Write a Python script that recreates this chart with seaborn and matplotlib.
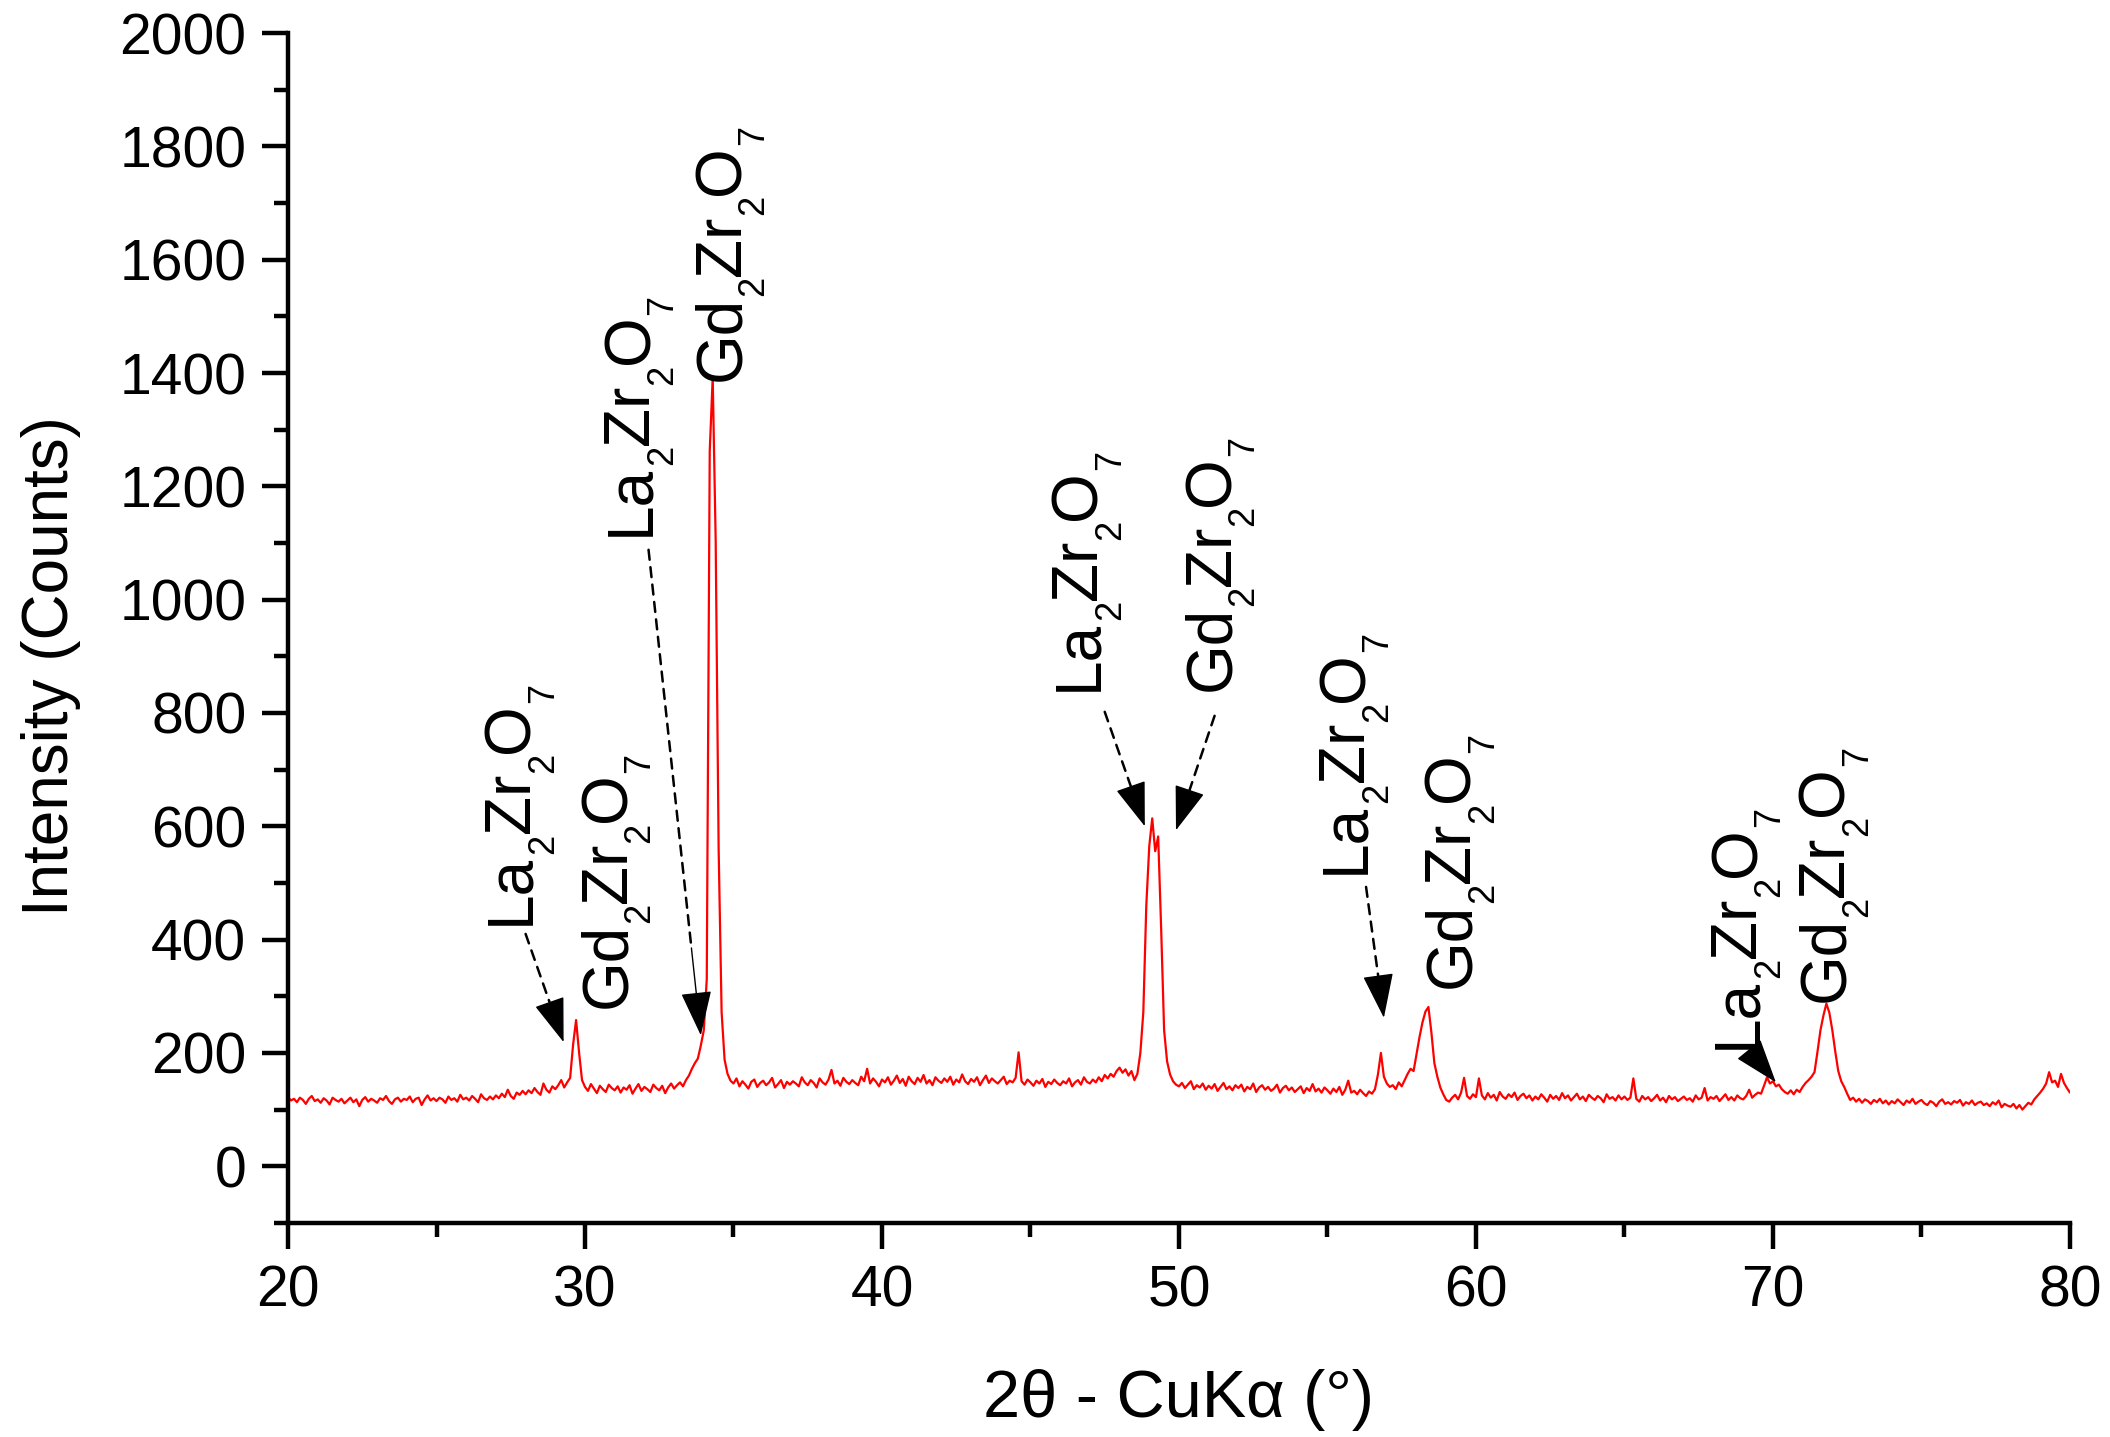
import numpy as np
import matplotlib
matplotlib.use("Agg")
import matplotlib.pyplot as plt
from matplotlib import transforms as mtransforms
from matplotlib.ticker import MultipleLocator
import seaborn as sns
import pandas as pd

# ---------------- data ----------------
start_angle = 20.0
step = 0.1
intensity_rows = [
    [122, 116, 119, 113, 121, 117, 110, 119, 124, 115],  # 20
    [118, 112, 120, 116, 109, 121, 117, 114, 119, 111],  # 21
    [116, 121, 113, 118, 106, 117, 122, 114, 119, 116],  # 22
    [112, 120, 117, 124, 115, 110, 118, 121, 114, 119],  # 23
    [117, 123, 113, 119, 121, 108, 118, 125, 116, 120],  # 24
    [115, 121, 118, 112, 123, 117, 120, 114, 126, 118],  # 25
    [121, 116, 124, 119, 113, 127, 120, 117, 123, 118],  # 26
    [125, 120, 128, 122, 135, 124, 119, 130, 126, 133],  # 27
    [127, 134, 129, 138, 131, 126, 146, 135, 130, 141],  # 28
    [136, 143, 152, 139, 148, 156, 215, 258, 201, 152],  # 29
    [140, 133, 145, 137, 129, 142, 136, 131, 144, 138],  # 30
    [134, 141, 130, 139, 135, 143, 128, 137, 145, 133],  # 31
    [140, 136, 131, 144, 138, 134, 142, 129, 139, 146],  # 32
    [137, 143, 148, 141, 152, 160, 172, 182, 190, 213],  # 33
    [240, 330, 1262, 1392, 1105, 560, 272, 188, 163, 151],  # 34
    [146, 155, 141, 150, 144, 137, 149, 153, 140, 147],  # 35
    [151, 143, 148, 156, 139, 145, 152, 138, 149, 144],  # 36
    [150, 146, 141, 157, 148, 143, 152, 147, 139, 155],  # 37
    [148, 144, 153, 170, 146, 151, 142, 156, 149, 145],  # 38
    [152, 147, 143, 158, 150, 172, 146, 155, 149, 141],  # 39
    [153, 148, 157, 144, 151, 160, 147, 154, 142, 158],  # 40
    [150, 145, 156, 149, 161, 146, 152, 143, 157, 151],  # 41
    [147, 155, 149, 158, 144, 153, 148, 162, 150, 145],  # 42
    [154, 149, 157, 143, 152, 160, 147, 155, 150, 146],  # 43
    [152, 158, 145, 151, 148, 156, 201, 150, 144, 153],  # 44
    [148, 142, 151, 146, 154, 140, 149, 145, 153, 147],  # 45
    [143, 150, 146, 155, 141, 148, 152, 144, 157, 149],  # 46
    [146, 153, 148, 157, 150, 161, 155, 163, 158, 168],  # 47
    [174, 165, 171, 160, 168, 152, 163, 200, 272, 460],  # 48
    [565, 614, 556, 582, 420, 240, 185, 162, 150, 144],  # 49
    [141, 147, 138, 144, 150, 136, 143, 139, 146, 135],  # 50
    [142, 137, 145, 133, 140, 147, 136, 141, 134, 143],  # 51
    [138, 144, 132, 140, 136, 146, 131, 139, 143, 135],  # 52
    [140, 133, 137, 144, 130, 138, 142, 134, 139, 131],  # 53
    [136, 141, 129, 138, 133, 145, 132, 137, 130, 139],  # 54
    [134, 128, 137, 131, 140, 126, 135, 151, 130, 133],  # 55
    [127, 135, 129, 124, 132, 128, 136, 162, 200, 158],  # 56
    [146, 140, 143, 136, 148, 141, 152, 163, 172, 168],  # 57
    [198, 228, 254, 273, 281, 236, 182, 158, 139, 127],  # 58
    [117, 114, 121, 126, 118, 130, 156, 124, 119, 127],  # 59
    [122, 155, 125, 118, 129, 121, 126, 116, 131, 123],  # 60
    [119, 127, 122, 130, 117, 124, 128, 120, 125, 116],  # 61
    [123, 118, 127, 121, 114, 126, 119, 124, 117, 129],  # 62
    [120, 125, 116, 122, 128, 118, 123, 115, 126, 121],  # 63
    [117, 124, 120, 113, 127, 119, 122, 116, 125, 118],  # 64
    [123, 117, 121, 155, 119, 114, 124, 118, 122, 115],  # 65
    [120, 126, 116, 121, 113, 124, 118, 122, 115, 119],  # 66
    [123, 117, 120, 114, 125, 118, 121, 138, 116, 122],  # 67
    [119, 124, 115, 121, 127, 117, 122, 116, 125, 120],  # 68
    [118, 124, 135, 121, 126, 130, 128, 142, 157, 146],  # 69
    [150, 141, 144, 136, 131, 128, 134, 127, 135, 131],  # 70
    [140, 147, 152, 158, 166, 202, 240, 266, 287, 271],  # 71
    [240, 202, 168, 150, 140, 128, 117, 121, 114, 119],  # 72
    [112, 118, 115, 110, 117, 113, 119, 111, 116, 109],  # 73
    [115, 111, 118, 113, 108, 116, 112, 119, 110, 114],  # 74
    [117, 111, 108, 115, 112, 106, 114, 118, 110, 113],  # 75
    [109, 115, 112, 117, 107, 113, 110, 116, 108, 112],  # 76
    [114, 108, 111, 106, 113, 109, 116, 104, 110, 107],  # 77
    [105, 110, 102, 108, 100, 106, 112, 109, 118, 124],  # 78
    [130, 137, 146, 166, 148, 151, 140, 163, 147, 138],  # 79
    [130],                                               # 80
]

# peak labels: element prefix, centre x, bottom y
label_prefix = ["La", "Gd", "La", "Gd", "La", "Gd", "La", "Gd", "La", "Gd"]
label_x = [27.7, 30.96, 31.73, 34.8, 46.8, 51.3, 55.8, 59.36, 69.0, 71.95]
label_y = [426, 279, 1112, 1386, 838, 838, 516, 314, 207, 290]

# arrows: start (x, y) -> tip (x, y)
arrow_start_x = [28.0, 32.14, 47.5, 51.2, 56.3, 69.37]
arrow_start_y = [410, 1088, 802, 795, 493, 195]
arrow_tip_x = [29.28, 33.9, 48.85, 49.9, 56.9, 70.1]
arrow_tip_y = [219, 231, 600, 593, 262, 148]

xticks = [20, 30, 40, 50, 60, 70, 80]
yticks = list(range(0, 2001, 200))

# ---------------- build ----------------
intensity = [v for row in intensity_rows for v in row]
two_theta = np.round(start_angle + step * np.arange(len(intensity)), 2)
df = pd.DataFrame({"two_theta": two_theta, "intensity": intensity})

sns.set_style("ticks", {"text.color": "black", "axes.labelcolor": "black",
                        "xtick.color": "black", "ytick.color": "black",
                        "axes.edgecolor": "black"})
plt.rcParams["font.family"] = ["Liberation Sans", "DejaVu Sans"]

fig = plt.figure(figsize=(21.1, 14.37), dpi=100)
ax = fig.add_axes([0.1365, 0.149, 0.8445, 0.828])

sns.lineplot(data=df, x="two_theta", y="intensity", color="#ff0000",
             linewidth=1.6, ax=ax, sort=False)

ax.set_xlim(20, 80)
ax.set_ylim(-100, 2000)
ax.set_xticks(xticks)
ax.set_yticks(yticks)
ax.xaxis.set_minor_locator(MultipleLocator(5))
ax.yaxis.set_minor_locator(MultipleLocator(100))

sns.despine(ax=ax)
for sp in ["left", "bottom"]:
    ax.spines[sp].set_linewidth(3.2)
    ax.spines[sp].set_color("black")
ax.tick_params(axis="both", which="major", direction="out", length=19,
               width=3.2, labelsize=41, pad=11, color="black", labelcolor="black")
ax.tick_params(axis="both", which="minor", direction="out", length=10,
               width=3.2, color="black")

ax.set_xlabel("2\u03b8 - CuK\u03b1 (\u00b0)", fontsize=48, labelpad=36)
ax.set_ylabel("Intensity (Counts)", fontsize=46)
ax.yaxis.set_label_coords(-0.116, 0.468)

# rotated chemical formulas built from normal and small (subscript) text pieces
renderer = fig.canvas.get_renderer()
MAIN_SIZE = 46
SUB_SIZE = 26
SUB_DROP = 24     # dots, subscript baseline below main baseline
CENTER_SHIFT = 12  # dots, baseline to the right of the column centre


def draw_formula(x, y, prefix):
    pieces = [(prefix, False), ("2", True), ("Zr", False), ("2", True),
              ("O", False), ("7", True)]
    along = 0.0
    for txt, is_sub in pieces:
        dx = CENTER_SHIFT + (SUB_DROP if is_sub else 0)
        tr = mtransforms.offset_copy(ax.transData, fig=fig, x=dx, y=along,
                                     units="dots")
        t = ax.text(x, y, txt, fontsize=SUB_SIZE if is_sub else MAIN_SIZE,
                    rotation=90, rotation_mode="anchor", ha="left",
                    va="baseline", transform=tr, color="black")
        along += t.get_window_extent(renderer=renderer).height


for prefix, x, y in zip(label_prefix, label_x, label_y):
    draw_formula(x, y, prefix)

for sx, sy, tx, ty in zip(arrow_start_x, arrow_start_y, arrow_tip_x, arrow_tip_y):
    hx = sx + 0.82 * (tx - sx)
    hy = sy + 0.82 * (ty - sy)
    ax.annotate("", xy=(hx, hy), xytext=(sx, sy),
                arrowprops=dict(arrowstyle="-", linestyle=(0, (4, 3)),
                                lw=1.8, color="black", shrinkA=0, shrinkB=0))
    ax.annotate("", xy=(tx, ty), xytext=(hx, hy),
                arrowprops=dict(arrowstyle="-|>,head_length=1.3,head_width=0.45",
                                lw=1.0, color="black", mutation_scale=22,
                                shrinkA=0, shrinkB=0))

fig.savefig("out.png", dpi=100, facecolor="white")
